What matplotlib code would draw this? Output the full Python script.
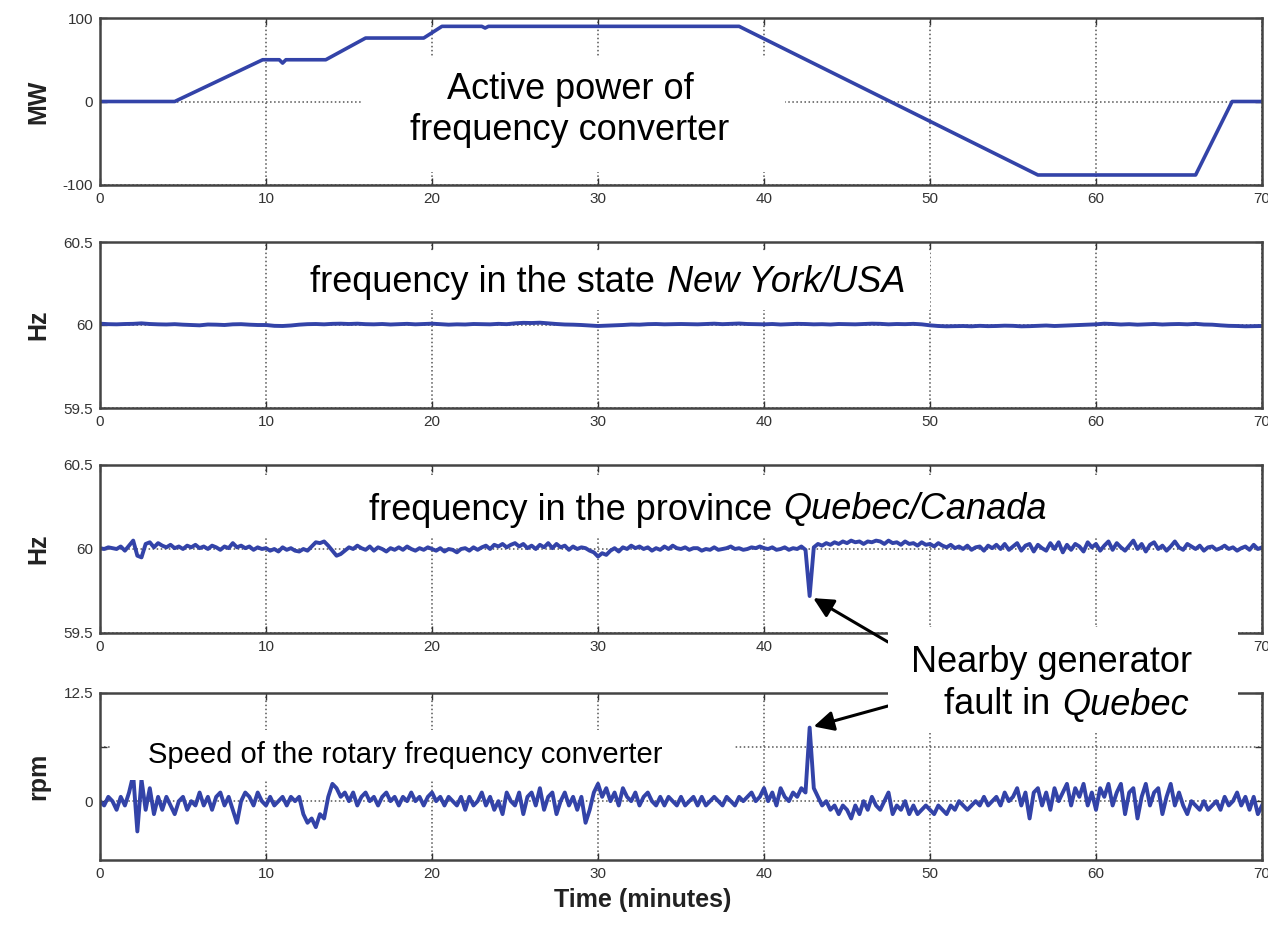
import numpy as np
import matplotlib.pyplot as plt
from matplotlib.patches import Rectangle

plt.rcParams['font.family'] = ['Liberation Sans', 'DejaVu Sans']

# active power of the frequency converter (MW), breakpoints
p_time = [0, 4.5, 9.8, 10.8, 11.0, 11.2, 13.6, 16.0, 19.5, 20.6, 23.0, 23.2, 23.4, 38.5, 56.5, 66.0, 68.2, 70]
p_mw = [0, 0, 50, 50, 46, 50, 50, 76, 76, 90, 90, 88, 90, 90, -88, -88, 0, 0]

# frequency New York, deviation from 60 Hz in mHz, every 0.5 min
ny_dev_mhz = [8, 5, 4, 6, 7, 10, 6, 4, 3, 5,
              2, 0, -2, 3, 2, 0, 4, 5, 2, 0,
              0, -5, -6, -3, 2, 5, 6, 4, 7, 8,
              6, 8, 5, 4, 6, 3, 5, 7, 4, 6,
              8, 5, 2, 4, 3, 6, 5, 4, 7, 5,
              10, 13, 12, 14, 10, 6, 3, 2, 0, -3,
              -6, -4, -2, 0, 3, 2, 5, 6, 4, 5,
              6, 5, 4, 6, 8, 5, 7, 9, 6, 5,
              4, 6, 3, 5, 7, 6, 4, 5, 3, 6,
              5, 4, 6, 8, 7, 4, 6, 5, 7, 4,
              -2, -6, -8, -7, -6, -8, -5, -7, -6, -4,
              -5, -8, -7, -5, -3, -6, -4, -2, 0, 2,
              4, 8, 6, 3, 5, 2, 4, 6, 3, 5,
              6, 4, 7, 3, 2, -2, -5, -6, -8, -7,
              -6]

# frequency Quebec, deviation from 60 Hz in mHz, every 0.25 min
qc_dev_mhz = [5, 0, 10, 5, 0, 15, -10, 20, 50, -40, -50, 30, 40, 10, 35, 20, 10, 25, 5, 15,
              0, 20, 10, 25, 5, 15, 0, 20, 10, -5, 15, 5, 35, 10, 20, 5, 15, -5, 10, 0,
              5, -10, 0, -15, 10, -5, 5, -10, -15, 0, -10, 15, 40, 35, 45, 20, -10, -40, -30, -10,
              10, 0, 20, 5, -5, 15, -10, 10, 0, -15, 5, -5, 10, -5, 15, 0, -10, 5, -5, 10,
              0, -10, 5, -15, 0, -5, -20, 0, 5, -10, 10, -5, 10, 20, 0, 25, 15, 30, 10, 25,
              35, 15, 30, 5, 20, 0, 25, 10, 35, 5, 30, 10, 20, -5, 15, 0, 10, 5, -10, -20,
              -45, -25, -35, -10, 5, -15, 10, 0, 20, 5, 15, 0, 10, -10, 5, -5, 15, 0, 20, 5,
              0, 10, -5, 5, 5, -10, 0, -5, 10, -5, 0, 5, 15, 0, 5, -5, 0, 10, 5, 15,
              5, 0, 10, -5, 0, 10, -5, 5, 0, 15, -5, -280, 10, 30, 20, 35, 25, 40, 30, 45,
              35, 50, 40, 45, 30, 45, 40, 50, 45, 30, 50, 35, 40, 25, 45, 30, 35, 20, 40, 25,
              30, 15, 35, 20, 10, 25, 5, 15, 0, 20, -5, 10, 15, -10, 20, 5, 25, 0, 30, -5,
              15, 35, -10, 20, 30, -15, 25, 5, -10, 35, 0, 40, -20, 25, -5, 30, 15, -15, 40, 10,
              30, -10, 20, 45, -5, 35, 10, -10, 20, 50, 0, 30, -15, 25, 40, 0, 20, -10, 15, 45,
              10, -5, 30, 15, 0, 20, -10, 10, 15, -5, 5, 20, 0, 10, -10, 5, 15, -5, 25, 0,
              10]

# converter speed deviation (rpm), every 0.25 min
rpm_dev = [0.0, -0.5, 0.5, 0.0, -1.0, 0.5, -0.5, 1.0, 3.0, -3.5, 2.5, -1.0, 1.5, -1.5, 0.5, -1.0, 0.5, -0.5, -1.5, 0.0,
           0.5, -1.0, 0.0, -0.5, 1.0, -0.5, 0.5, -1.0, 0.5, 1.0, -0.5, 0.5, -1.0, -2.5, 0.0, 1.0, 0.5, -0.5, 1.0, 0.0,
           -0.5, 0.5, -0.5, 0.0, 0.5, -0.5, 0.5, 0.0, 0.5, -1.5, -2.5, -2.0, -3.0, -1.5, -2.0, 0.5, 2.0, 1.5, 0.5, 1.0,
           0.0, 1.0, -0.5, 0.5, 1.0, 0.0, 0.5, -0.5, 0.5, 1.0, 0.0, 0.5, -0.5, 0.5, 0.0, 1.0, 0.0, 0.5, -0.5, 0.5,
           1.0, 0.0, 0.5, -0.5, 0.5, 0.0, -0.5, 0.5, -1.0, 0.5, -0.5, 0.0, 1.0, -0.5, 0.5, -1.0, 0.0, -1.5, 1.0, 0.0,
           -0.5, 1.0, -1.5, 0.5, 1.0, -0.5, 1.5, -1.0, 0.5, 1.0, -1.5, 0.0, 1.0, -0.5, 0.5, -1.0, 0.5, -2.5, -1.0, 1.0,
           2.0, 0.5, 1.5, 0.0, 1.0, -0.5, 1.5, 0.5, 0.0, 1.0, -0.5, 0.5, 1.0, 0.0, -0.5, 0.5, -0.5, 0.5, 0.0, -0.5,
           0.5, -0.5, 0.0, 0.5, -0.5, 0.5, -0.5, 0.0, 0.5, 0.0, -0.5, 0.5, 0.0, -0.5, 0.5, 0.0, 0.5, 1.0, 0.0, 0.5,
           1.5, 0.0, 1.0, -0.5, 1.5, 0.5, 0.0, 1.0, 0.5, 1.5, 1.0, 8.5, 1.5, 0.5, -0.5, 0.0, -1.0, -0.5, -1.5, -0.5,
           -1.0, -2.0, -0.5, -1.5, 0.0, -1.0, 0.5, -0.5, -1.0, 0.0, 1.0, -1.5, -0.5, -1.0, 0.0, -1.5, -0.5, -1.5, -1.0, -0.5,
           -1.0, -1.5, -0.5, -1.0, -1.5, -0.5, -1.0, 0.0, -0.5, -1.0, -0.5, 0.0, -0.5, 0.5, -0.5, 0.0, 0.5, -0.5, 1.0, 0.0,
           0.5, 1.5, -0.5, 1.0, -2.0, 1.0, 1.5, -0.5, 1.0, -1.0, 1.5, 0.0, 1.0, 2.0, -0.5, 1.5, 0.5, 2.0, -0.5, 1.0,
           -1.0, 1.5, 0.5, 2.0, -0.5, 1.0, 2.0, -1.5, 1.0, 1.5, -2.0, 0.5, 2.0, -0.5, 1.0, 1.5, -1.5, 0.5, 2.0, -0.5,
           1.0, -0.5, -1.5, 0.0, -0.5, -1.0, 0.0, -1.0, -0.5, 0.0, -1.0, 0.5, -0.5, 0.0, 1.0, -0.5, 0.5, -1.0, 0.5, -1.5,
           -0.5]

t_ny = np.arange(0, 70.01, 0.5)
t_fast = np.arange(0, 70.01, 0.25)
ny_hz = 60 + np.array(ny_dev_mhz) / 1000
qc_hz = 60 + np.array(qc_dev_mhz) / 1000
rpm = np.array(rpm_dev)

x_ticks = np.arange(0, 71, 10)
x_labels = [str(v) for v in x_ticks]

W, H = 1268, 926
fig = plt.figure(figsize=(W / 100, H / 100), dpi=100)

def fx(px):
    return px / W

def fy(py):
    return 1 - py / H

def panel(top, bottom):
    return fig.add_axes([fx(100), fy(bottom), fx(1262) - fx(100), fy(top) - fy(bottom)])

def style(ax, ylim, yticks, ylabels, ylab, xlabels=x_labels):
    ax.set_xlim(0, 70)
    ax.set_xticks(x_ticks)
    ax.set_xticklabels(xlabels)
    ax.set_ylim(*ylim)
    ax.set_yticks(yticks)
    ax.set_yticklabels(ylabels)
    ax.tick_params(direction='in', top=True, right=True, length=5, width=1,
                   labelsize=11, labelcolor='#333', color='#333', pad=5)
    ax.grid(True, linestyle=':', color='#555', linewidth=1.1)
    for s in ax.spines.values():
        s.set_linewidth(1.8)
        s.set_color('#444')
    ax.set_ylabel(ylab, fontsize=18, fontweight='bold', color='#222')
    ax.yaxis.set_label_coords(-0.043, 0.5)

blue = '#3343a8'

ax1 = panel(18, 185)
ax1.plot(p_time, p_mw, color=blue, lw=2.6)
style(ax1, (-100, 100), [-100, 0, 100], ['-100', '0', '100'], 'MW')

ax2 = panel(242, 408)
ax2.plot(t_ny, ny_hz, color=blue, lw=2.8)
style(ax2, (59.5, 60.5), [59.5, 60, 60.5], ['59.5', '60', '60.5'], 'Hz')

ax3 = panel(465, 633)
ax3.plot(t_fast, qc_hz, color=blue, lw=2.8)
# the "50" and "60" labels are hidden behind the annotation box in the original
style(ax3, (59.5, 60.5), [59.5, 60, 60.5], ['59.5', '60', '60.5'], 'Hz',
      xlabels=['0', '10', '20', '30', '40', '', '', '70'])

ax4 = panel(693, 860)
ax4.plot(t_fast, rpm, color=blue, lw=2.8)
style(ax4, (-6.8, 12.5), [0, 6.25, 12.5], ['0', '', '12.5'], 'rpm')

# white label boxes pasted over the plots
boxes = [(362, 58, 785, 172), (285, 252, 930, 310), (255, 475, 1218, 538),
         (112, 730, 735, 780), (888, 627, 1238, 733)]
for x0, y0, x1, y1 in boxes:
    fig.add_artist(Rectangle((fx(x0), fy(y1)), fx(x1) - fx(x0), fy(y0) - fy(y1),
                             transform=fig.transFigure, facecolor='white',
                             edgecolor='none', zorder=5))

kw = dict(fontsize=26, va='center', zorder=6)
fig.text(fx(570), fy(110), 'Active power of\nfrequency converter', ha='center',
         linespacing=1.25, **kw)
fig.text(fx(655), fy(283), 'frequency in the state', ha='right', **kw)
fig.text(fx(667), fy(283), 'New York/USA', ha='left', style='italic', **kw)
fig.text(fx(772), fy(510), 'frequency in the province', ha='right', **kw)
fig.text(fx(783), fy(510), 'Quebec/Canada', ha='left', style='italic', **kw)
fig.text(fx(148), fy(755), 'Speed of the rotary frequency converter', ha='left',
         fontsize=21, va='center', zorder=6)
fig.text(fx(1052), fy(662), 'Nearby generator', ha='center', **kw)
fig.text(fx(1050), fy(705), 'fault in', ha='right', **kw)
fig.text(fx(1062), fy(705), 'Quebec', ha='left', style='italic', **kw)

arrow = dict(arrowstyle='-|>', color='black', lw=2.2, mutation_scale=30,
             shrinkA=0, shrinkB=3)
i_qc = int(np.argmin(qc_hz))
ax3.annotate('', xy=(t_fast[i_qc], qc_hz[i_qc]), xycoords='data',
             xytext=(fx(888), fy(642)), textcoords='figure fraction',
             arrowprops=arrow, annotation_clip=False)
i_rpm = int(np.argmax(rpm))
ax4.annotate('', xy=(t_fast[i_rpm], rpm[i_rpm]), xycoords='data',
             xytext=(fx(888), fy(706)), textcoords='figure fraction',
             arrowprops=arrow, annotation_clip=False)

fig.text(fx(643), fy(900), 'Time (minutes)', ha='center', va='center',
         fontsize=18, fontweight='bold', color='#222')

fig.savefig('out.png', dpi=100)
